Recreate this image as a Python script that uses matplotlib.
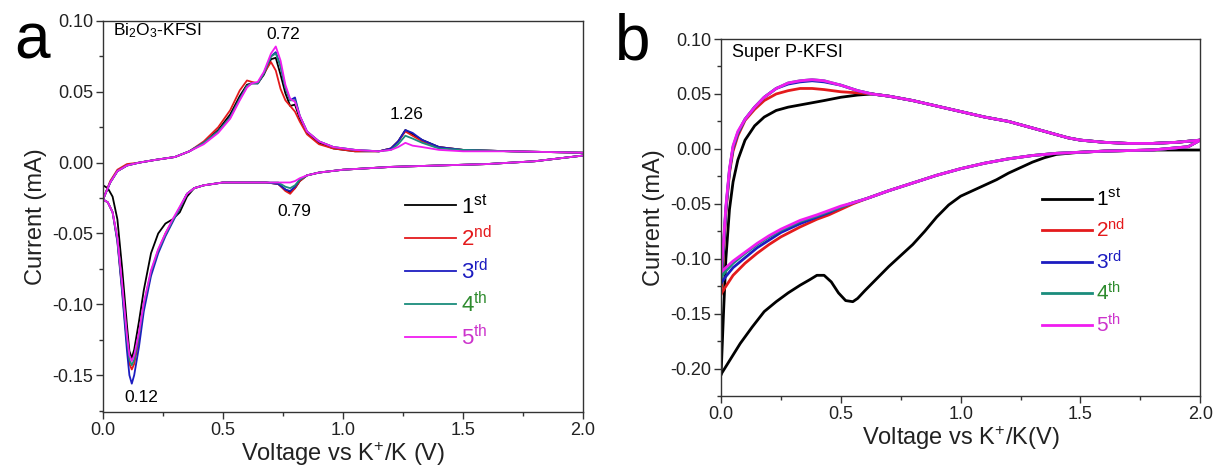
import numpy as np
import matplotlib
matplotlib.use("Agg")
import matplotlib.pyplot as plt
from matplotlib.lines import Line2D
from matplotlib.ticker import MultipleLocator

plt.rcParams['font.family'] = ['Liberation Sans', 'DejaVu Sans']
plt.rcParams['mathtext.fontset'] = 'custom'
plt.rcParams['mathtext.rm'] = 'Liberation Sans'
plt.rcParams['mathtext.it'] = 'Liberation Sans:italic'
plt.rcParams['mathtext.bf'] = 'Liberation Sans:bold'

# ---------------- data: panel a (Bi2O3-KFSI) ----------------
va_up = [0.00, 0.03, 0.06, 0.10, 0.15, 0.22, 0.30, 0.36, 0.42, 0.48, 0.53, 0.57, 0.60, 0.62,
         0.645, 0.67, 0.70, 0.72, 0.74, 0.76, 0.78, 0.80, 0.82, 0.85, 0.90, 0.96, 1.05, 1.15,
         1.20, 1.23, 1.26, 1.29, 1.33, 1.40, 1.50, 1.70, 2.00]
ia_up = {
    '1st': [-0.026, -0.014, -0.006, -0.002, 0.000, 0.002, 0.004, 0.008, 0.014, 0.023, 0.034, 0.047, 0.055, 0.056,
            0.056, 0.062, 0.073, 0.074, 0.062, 0.049, 0.040, 0.041, 0.031, 0.021, 0.014, 0.010, 0.008, 0.008,
            0.010, 0.015, 0.023, 0.020, 0.016, 0.011, 0.009, 0.008, 0.007],
    '2nd': [-0.026, -0.013, -0.005, -0.001, 0.000, 0.002, 0.004, 0.008, 0.015, 0.025, 0.037, 0.051, 0.058, 0.057,
            0.056, 0.063, 0.071, 0.065, 0.052, 0.044, 0.040, 0.036, 0.029, 0.020, 0.013, 0.010, 0.008, 0.008,
            0.010, 0.015, 0.022, 0.019, 0.015, 0.011, 0.009, 0.008, 0.007],
    '3rd': [-0.026, -0.014, -0.006, -0.002, 0.000, 0.002, 0.004, 0.008, 0.014, 0.022, 0.032, 0.045, 0.054, 0.056,
            0.056, 0.063, 0.075, 0.078, 0.068, 0.053, 0.044, 0.046, 0.033, 0.022, 0.015, 0.011, 0.009, 0.008,
            0.010, 0.015, 0.023, 0.021, 0.016, 0.011, 0.009, 0.008, 0.007],
    '4th': [-0.026, -0.014, -0.006, -0.002, 0.000, 0.002, 0.004, 0.008, 0.014, 0.022, 0.032, 0.045, 0.054, 0.056,
            0.056, 0.063, 0.075, 0.077, 0.068, 0.053, 0.044, 0.044, 0.033, 0.022, 0.015, 0.011, 0.009, 0.008,
            0.009, 0.013, 0.019, 0.017, 0.014, 0.010, 0.009, 0.008, 0.007],
    '5th': [-0.026, -0.014, -0.006, -0.002, 0.000, 0.002, 0.004, 0.008, 0.013, 0.021, 0.031, 0.044, 0.053, 0.056,
            0.057, 0.064, 0.077, 0.082, 0.072, 0.055, 0.045, 0.043, 0.033, 0.022, 0.015, 0.011, 0.009, 0.008,
            0.009, 0.011, 0.014, 0.012, 0.011, 0.009, 0.008, 0.008, 0.007],
}
va_dn = [2.00, 1.80, 1.60, 1.40, 1.20, 1.00, 0.90, 0.85, 0.82, 0.80, 0.78, 0.76, 0.73, 0.68, 0.60, 0.50,
         0.42, 0.38, 0.35, 0.32, 0.29, 0.26, 0.23, 0.20, 0.17, 0.15, 0.13, 0.12, 0.11, 0.10, 0.08, 0.06,
         0.04, 0.02, 0.00]
ia_dn = {
    '1st': [0.005, 0.001, -0.001, -0.002, -0.003, -0.005, -0.007, -0.009, -0.013, -0.018, -0.021, -0.019, -0.015,
            -0.014, -0.014, -0.014, -0.016, -0.018, -0.024, -0.035, -0.040, -0.043, -0.050, -0.064, -0.090, -0.112,
            -0.132, -0.138, -0.133, -0.115, -0.075, -0.040, -0.024, -0.018, -0.016],
    '2nd': [0.005, 0.001, -0.001, -0.002, -0.003, -0.005, -0.007, -0.009, -0.013, -0.018, -0.022, -0.020, -0.015,
            -0.014, -0.014, -0.014, -0.016, -0.018, -0.022, -0.032, -0.041, -0.050, -0.062, -0.078, -0.102, -0.125,
            -0.142, -0.146, -0.142, -0.128, -0.090, -0.055, -0.035, -0.028, -0.026],
    '3rd': [0.005, 0.001, -0.001, -0.002, -0.003, -0.005, -0.007, -0.009, -0.012, -0.017, -0.020, -0.019, -0.015,
            -0.014, -0.014, -0.014, -0.016, -0.018, -0.022, -0.032, -0.042, -0.052, -0.064, -0.080, -0.105, -0.130,
            -0.150, -0.156, -0.150, -0.133, -0.092, -0.056, -0.035, -0.028, -0.026],
    '4th': [0.005, 0.001, -0.001, -0.002, -0.003, -0.005, -0.007, -0.009, -0.012, -0.016, -0.018, -0.017, -0.014,
            -0.014, -0.014, -0.014, -0.016, -0.018, -0.022, -0.032, -0.041, -0.051, -0.062, -0.077, -0.100, -0.122,
            -0.139, -0.143, -0.139, -0.125, -0.088, -0.054, -0.035, -0.028, -0.026],
    '5th': [0.005, 0.001, -0.001, -0.002, -0.003, -0.005, -0.007, -0.009, -0.011, -0.013, -0.014, -0.014, -0.014,
            -0.014, -0.014, -0.014, -0.016, -0.018, -0.022, -0.031, -0.040, -0.050, -0.061, -0.076, -0.099, -0.120,
            -0.136, -0.140, -0.136, -0.122, -0.086, -0.053, -0.035, -0.028, -0.026],
}

# ---------------- data: panel b (Super P-KFSI) ----------------
vb_up = [0.00, 0.01, 0.02, 0.035, 0.05, 0.07, 0.10, 0.14, 0.18, 0.23, 0.28, 0.33, 0.38, 0.43, 0.50,
         0.57, 0.63, 0.70, 0.80, 0.90, 1.00, 1.10, 1.20, 1.25, 1.30, 1.35, 1.40, 1.45, 1.50, 1.55,
         1.60, 1.70, 1.80, 1.90, 2.00]
ib_up = {
    '1st': [-0.205, -0.150, -0.100, -0.055, -0.030, -0.010, 0.008, 0.021, 0.029, 0.035, 0.038, 0.040, 0.042, 0.044,
            0.047, 0.049, 0.050, 0.048, 0.044, 0.039, 0.034, 0.029, 0.025, 0.022, 0.019, 0.016, 0.013, 0.010,
            0.008, 0.007, 0.006, 0.005, 0.005, 0.006, 0.008],
    '2nd': [-0.132, -0.095, -0.058, -0.022, -0.002, 0.012, 0.026, 0.036, 0.044, 0.050, 0.053, 0.055, 0.055, 0.054,
            0.052, 0.051, 0.050, 0.048, 0.044, 0.039, 0.034, 0.029, 0.025, 0.022, 0.019, 0.016, 0.013, 0.010,
            0.008, 0.007, 0.006, 0.005, 0.005, 0.006, 0.008],
    '3rd': [-0.122, -0.090, -0.055, -0.020, 0.001, 0.014, 0.027, 0.038, 0.047, 0.055, 0.059, 0.061, 0.062, 0.061,
            0.058, 0.053, 0.050, 0.048, 0.044, 0.039, 0.034, 0.029, 0.025, 0.022, 0.019, 0.016, 0.013, 0.010,
            0.008, 0.007, 0.006, 0.005, 0.005, 0.006, 0.008],
    '4th': [-0.117, -0.088, -0.054, -0.019, 0.002, 0.015, 0.027, 0.038, 0.047, 0.055, 0.060, 0.062, 0.063, 0.062,
            0.058, 0.053, 0.050, 0.048, 0.044, 0.039, 0.034, 0.029, 0.025, 0.022, 0.019, 0.016, 0.013, 0.010,
            0.008, 0.007, 0.006, 0.005, 0.005, 0.006, 0.008],
    '5th': [-0.112, -0.085, -0.052, -0.018, 0.003, 0.016, 0.027, 0.038, 0.047, 0.055, 0.060, 0.062, 0.063, 0.062,
            0.058, 0.053, 0.050, 0.048, 0.044, 0.039, 0.034, 0.029, 0.025, 0.022, 0.019, 0.016, 0.013, 0.010,
            0.008, 0.007, 0.006, 0.005, 0.005, 0.006, 0.008],
}
# first cathodic sweep has its own shape (hump near 0.42 V, dip near 0.55 V)
vb_dn_first = [2.00, 1.80, 1.60, 1.50, 1.40, 1.35, 1.30, 1.25, 1.20, 1.15, 1.10, 1.05, 1.00, 0.95, 0.90,
               0.85, 0.80, 0.75, 0.70, 0.65, 0.60, 0.57, 0.55, 0.52, 0.49, 0.46, 0.43, 0.40, 0.37, 0.33,
               0.28, 0.23, 0.18, 0.13, 0.08, 0.04, 0.00]
ib_dn_first = [-0.001, -0.001, -0.002, -0.003, -0.005, -0.008, -0.012, -0.017, -0.022, -0.028, -0.033, -0.038,
               -0.043, -0.051, -0.062, -0.075, -0.087, -0.097, -0.107, -0.118, -0.129, -0.136, -0.139, -0.138,
               -0.131, -0.121, -0.115, -0.115, -0.119, -0.124, -0.131, -0.139, -0.148, -0.162, -0.177, -0.191,
               -0.205]
vb_dn = [2.00, 1.95, 1.80, 1.60, 1.50, 1.40, 1.30, 1.20, 1.10, 1.00, 0.90, 0.80, 0.70, 0.61,
         0.55, 0.50, 0.45, 0.40, 0.33, 0.25, 0.20, 0.15, 0.10, 0.05, 0.02, 0.00]
ib_dn = {
    '2nd': [0.008, 0.002, -0.001, -0.002, -0.003, -0.004, -0.006, -0.009, -0.013, -0.018, -0.024, -0.031,
            -0.038, -0.045, -0.050, -0.055, -0.060, -0.064, -0.071, -0.080, -0.087, -0.095, -0.104, -0.115,
            -0.125, -0.132],
    '3rd': [0.008, 0.002, -0.001, -0.002, -0.003, -0.004, -0.006, -0.009, -0.013, -0.018, -0.024, -0.031,
            -0.038, -0.045, -0.049, -0.053, -0.058, -0.062, -0.068, -0.076, -0.083, -0.090, -0.099, -0.108,
            -0.116, -0.122],
    '4th': [0.008, 0.002, -0.001, -0.002, -0.003, -0.004, -0.006, -0.009, -0.013, -0.018, -0.024, -0.031,
            -0.038, -0.045, -0.049, -0.053, -0.057, -0.061, -0.066, -0.074, -0.080, -0.087, -0.095, -0.104,
            -0.111, -0.117],
    '5th': [0.008, 0.002, -0.001, -0.002, -0.003, -0.004, -0.006, -0.009, -0.013, -0.018, -0.024, -0.031,
            -0.038, -0.045, -0.049, -0.052, -0.056, -0.060, -0.065, -0.073, -0.079, -0.086, -0.094, -0.102,
            -0.108, -0.112],
}

cycles = ['1st', '2nd', '3rd', '4th', '5th']
line_colors = ['#000000', '#e41a1c', '#1c1cc0', '#1a8c7c', '#f01cf0']
text_colors = ['#000000', '#e41a1c', '#1c1cc0', '#2e8b2e', '#cc33cc']
legend_labels = [r'1$^{\mathrm{st}}$', r'2$^{\mathrm{nd}}$', r'3$^{\mathrm{rd}}$',
                 r'4$^{\mathrm{th}}$', r'5$^{\mathrm{th}}$']

fig = plt.figure(figsize=(12.16, 4.70), dpi=100)
ax_a = fig.add_axes([0.0847, 0.1234, 0.3947, 0.832])
ax_b = fig.add_axes([0.593, 0.157, 0.394, 0.760])


def style_axes(ax, ymin):
    ax.set_xlim(0, 2.0)
    ax.set_ylim(ymin, 0.10)
    ax.xaxis.set_major_locator(MultipleLocator(0.5))
    ax.xaxis.set_minor_locator(MultipleLocator(0.25))
    ax.yaxis.set_major_locator(MultipleLocator(0.05))
    ax.yaxis.set_minor_locator(MultipleLocator(0.025))
    ax.xaxis.set_major_formatter(plt.FormatStrFormatter('%.1f'))
    ax.yaxis.set_major_formatter(plt.FormatStrFormatter('%.2f'))
    ax.tick_params(which='both', direction='out', top=False, right=False,
                   labelsize=13, color='#333333', labelcolor='#222222', pad=2)
    ax.tick_params(which='major', length=5, width=1)
    ax.tick_params(which='minor', length=3, width=1)
    for s in ax.spines.values():
        s.set_color('#333333')
        s.set_linewidth(1.0)
    ax.set_ylabel('Current (mA)', fontsize=17, color='#222222', labelpad=4)


# panel a
for c, col in zip(cycles, line_colors):
    ax_a.plot(va_up, ia_up[c], color=col, lw=1.3)
    ax_a.plot(va_dn, ia_dn[c], color=col, lw=1.3)
style_axes(ax_a, -0.176)
ax_a.set_xlabel(r'Voltage vs K$^{+}$/K (V)', fontsize=17, color='#222222', labelpad=1)
ax_a.text(0.04, 0.093, r'Bi$_{2}$O$_{3}$-KFSI', fontsize=12.5, va='center', ha='left')
ax_a.text(0.75, 0.0905, '0.72', fontsize=12.5, ha='center', va='center')
ax_a.text(1.267, 0.034, '1.26', fontsize=12.5, ha='center', va='center')
ax_a.text(0.797, -0.0347, '0.79', fontsize=12.5, ha='center', va='center')
ax_a.text(0.16, -0.1656, '0.12', fontsize=12.5, ha='center', va='center')
handles_a = [Line2D([], [], color=col, lw=1.3) for col in line_colors]
ax_a.legend(handles_a, legend_labels, loc='center left', bbox_to_anchor=(0.63, 0.358),
            frameon=False, fontsize=16, handlelength=2.3, handletextpad=0.2,
            labelspacing=0.35, borderpad=0, borderaxespad=0, labelcolor=text_colors)

# panel b
ax_b.plot(vb_up, ib_up['1st'], color=line_colors[0], lw=2.0)
ax_b.plot(vb_dn_first, ib_dn_first, color=line_colors[0], lw=2.0)
for c, col in zip(cycles[1:], line_colors[1:]):
    ax_b.plot(vb_up, ib_up[c], color=col, lw=2.0)
    ax_b.plot(vb_dn, ib_dn[c], color=col, lw=2.0)
style_axes(ax_b, -0.225)
ax_b.set_xlabel(r'Voltage vs K$^{+}$/K(V)', fontsize=17, color='#222222', labelpad=1)
ax_b.text(0.045, 0.088, 'Super P-KFSI', fontsize=13, va='center', ha='left')
handles_b = [Line2D([], [], color=col, lw=2.0) for col in line_colors]
ax_b.legend(handles_b, legend_labels, loc='center left', bbox_to_anchor=(0.67, 0.375),
            frameon=False, fontsize=15, handlelength=2.4, handletextpad=0.2,
            labelspacing=0.4, borderpad=0, borderaxespad=0, labelcolor=text_colors)

fig.text(0.012, 0.912, 'a', fontsize=46, va='center', ha='left')
fig.text(0.506, 0.909, 'b', fontsize=46, va='center', ha='left')

fig.savefig('out.png', dpi=100)
